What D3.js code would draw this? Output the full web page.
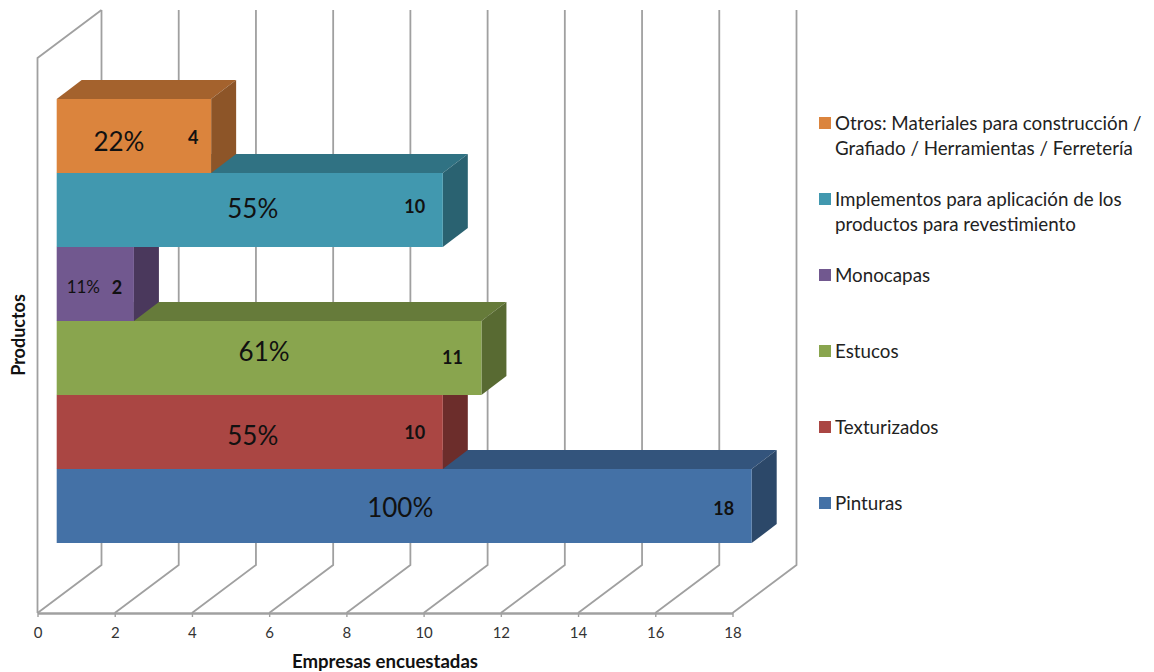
<!DOCTYPE html>
<html lang="es">
<head>
<meta charset="utf-8">
<script src="https://cdn.jsdelivr.net/npm/d3@7/dist/d3.min.js"></script>
<style>
  html, body { margin: 0; padding: 0; background: #fff; }
  svg { display: block; font-family: Lato, "Open Sans", sans-serif; }
</style>
</head>
<body>
<svg id="chart" width="1154" height="672"></svg>
<script>
// Survey results, listed from the bottom bar upwards
const products = ["Pinturas", "Texturizados", "Estucos", "Monocapas",
  "Implementos para aplicación de los productos para revestimiento",
  "Otros: Materiales para construcción / Grafiado / Herramientas / Ferretería"];
const companies = [18, 10, 11, 2, 10, 4];
const shares = ["100%", "55%", "61%", "11%", "55%", "22%"];
const legendLines = [["Pinturas"], ["Texturizados"], ["Estucos"], ["Monocapas"],
  ["Implementos para aplicación de los", "productos para revestimiento"],
  ["Otros: Materiales para construcción /", "Grafiado / Herramientas / Ferretería"]];
const xTicks = [0, 2, 4, 6, 8, 10, 12, 14, 16, 18];

// Front, top and side shades of each bar
const frontColors = ["#4471a6", "#aa4643", "#89a54e", "#71588f", "#4198af", "#db843d"];
const topColors = ["#33547c", "#7f3432", "#667b3a", "#54416b", "#307283", "#a4622d"];
const sideColors = ["#2c4869", "#6c2d2b", "#586a32", "#4a385c", "#2a6271", "#8d5528"];

// Hand placement of the data labels relative to the bar
const shareNudge = [[-4, 0], [3, 2], [-5, -8], [-12, 1], [3, -3], [-15, 4]];
const countInset = [28, 28, 29, 17, 28, 18];
const countDrop = [2, 0, -1, 3, -4, 1];

const svg = d3.select("#chart");

// Wall and floor frame
const floorY = 613, wallTop = 58;
const wallDx = 64, wallDy = -48;
const x = d3.scaleLinear().domain([0, 18]).range([37.5, 732.5]);

// Bars sit part-way into the depth of the floor
const barShiftX = 19.2;
const barDx = 25, barDy = -19;
const y = d3.scaleBand().domain(d3.range(products.length)).range([543, 99]);
const barX = v => x(v) + barShiftX;

const gridColor = "#a0a0a0";
const grid = svg.append("g").attr("fill", "none").attr("stroke", gridColor).attr("stroke-width", 1.8);

// Back wall verticals and the floor lines leading to them
grid.selectAll("path.wall").data(xTicks).join("path").attr("class", "wall")
  .attr("d", d => d3.line()([
    [x(d), floorY],
    [x(d) + wallDx, floorY + wallDy],
    [x(d) + wallDx, wallTop + wallDy]
  ]));

// Left side wall
grid.append("path").attr("d", d3.line()([
  [x(0), floorY], [x(0), wallTop], [x(0) + wallDx, wallTop + wallDy]
]));

// Horizontal value axis along the front of the floor
const axis = svg.append("g")
  .attr("transform", `translate(0,${floorY})`)
  .call(d3.axisBottom(x).tickValues(xTicks).tickSize(4).tickSizeOuter(0).tickPadding(10));
axis.select(".domain").attr("stroke", gridColor).attr("stroke-width", 2.4);
axis.selectAll(".tick line").attr("stroke", gridColor).attr("stroke-width", 1.4);
axis.selectAll(".tick text").attr("fill", "#333").style("font-size", "15px")
  .style("font-family", "Lato, sans-serif");

// Bars, drawn bottom first so each one covers the top of the bar beneath
const bars = svg.selectAll("g.bar").data(d3.range(products.length)).join("g").attr("class", "bar");

bars.append("path").attr("fill", i => topColors[i]).attr("d", i => {
  const t = y(i), x0 = barX(0), x1 = barX(companies[i]);
  return d3.line()([[x0, t], [x1, t], [x1 + barDx, t + barDy], [x0 + barDx, t + barDy]]) + "Z";
});
bars.append("path").attr("fill", i => sideColors[i]).attr("d", i => {
  const t = y(i), b = t + y.bandwidth(), x1 = barX(companies[i]);
  return d3.line()([[x1, t], [x1 + barDx, t + barDy], [x1 + barDx, b + barDy], [x1, b]]) + "Z";
});
bars.append("rect").attr("fill", i => frontColors[i])
  .attr("x", barX(0)).attr("y", i => y(i))
  .attr("width", i => barX(companies[i]) - barX(0))
  .attr("height", y.bandwidth());

// Percentage labels
bars.append("text")
  .attr("text-anchor", "middle").attr("dominant-baseline", "central").attr("fill", "#111")
  .style("font-size", i => companies[i] < 3 ? "17px" : "26px")
  .attr("x", i => (barX(0) + barX(companies[i])) / 2 + shareNudge[i][0])
  .attr("y", i => y(i) + y.bandwidth() / 2 + shareNudge[i][1] + 1)
  .text(i => shares[i]);

// Company counts
bars.append("text")
  .attr("text-anchor", "middle").attr("dominant-baseline", "central").attr("fill", "#111")
  .attr("font-weight", 700).style("font-size", "18px")
  .attr("x", i => barX(companies[i]) - countInset[i])
  .attr("y", i => y(i) + y.bandwidth() / 2 + countDrop[i])
  .text(i => companies[i]);

// Axis titles
svg.append("text").attr("x", 385).attr("y", 661).attr("text-anchor", "middle")
  .attr("dominant-baseline", "central").attr("font-weight", 700).attr("fill", "#111")
  .style("font-size", "18.6px").text("Empresas encuestadas");
svg.append("text").attr("transform", "translate(18,335) rotate(-90)").attr("text-anchor", "middle")
  .attr("dominant-baseline", "central").attr("font-weight", 700).attr("fill", "#111")
  .style("font-size", "18px").text("Productos");

// Legend, with the first entry at the bottom
const legendY = d3.scalePoint().domain(d3.range(products.length)).range([503, 123]);
const entries = svg.selectAll("g.legend").data(d3.range(products.length)).join("g")
  .attr("class", "legend")
  .attr("transform", i => `translate(819,${legendY(i)})`);
entries.append("rect").attr("x", 0).attr("y", -6).attr("width", 12).attr("height", 12)
  .attr("fill", i => frontColors[i]);
entries.each(function (i) {
  d3.select(this).selectAll("text").data(legendLines[i]).join("text")
    .attr("x", 16).attr("y", (d, k) => k * 25 - 0.8)
    .attr("dominant-baseline", "central").attr("fill", "#222")
    .style("font-size", "18.75px").text(d => d);
});
</script>
</body>
</html>
